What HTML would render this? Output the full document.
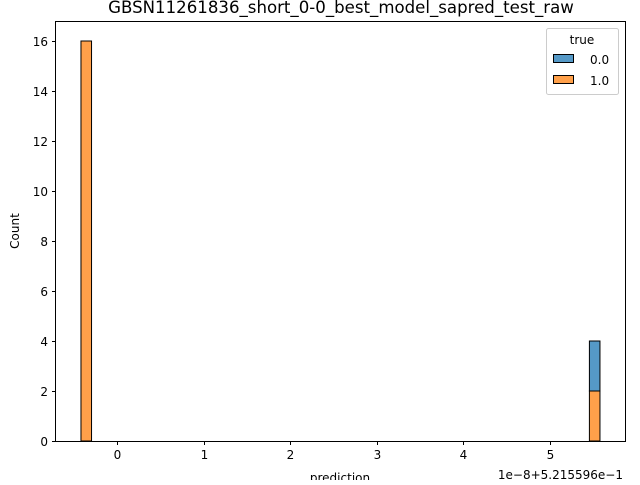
<!DOCTYPE html>
<html><head><meta charset="utf-8"><style>
body{margin:0;background:#fff}
svg text{font-family:"DejaVu Sans","Liberation Sans",sans-serif;fill:#000}
</style></head><body>
<svg width="640" height="480">
<text x="341" y="13" font-size="16.6" text-anchor="middle">GBSN11261836_short_0-0_best_model_sapred_test_raw</text>
<g id="bars"></g>
<g id="xticks"></g><g id="yticks"></g>
<rect x="55.5" y="21.5" width="570" height="420" fill="none" stroke="#000" stroke-width="1"/>
<text x="340" y="482" font-size="12" text-anchor="middle">prediction</text>
<text x="19" y="231" font-size="12" text-anchor="middle" transform="rotate(-90 19 231)">Count</text>
<text x="623" y="479" font-size="12" text-anchor="end">1e−8+5.215596e−1</text>
<g>
<rect x="546.5" y="28.5" width="72" height="66" rx="2" fill="#fff" stroke="#ccc"/>
<text x="582" y="44" font-size="12" text-anchor="middle">true</text>
<rect x="553.5" y="54.5" width="20" height="8" fill="#5599c7" stroke="#000"/>
<text x="590" y="64" font-size="12">0.0</text>
<rect x="553.5" y="75.5" width="20" height="8" fill="#ffa04a" stroke="#000"/>
<text x="590" y="85" font-size="12">1.0</text>
</g>
</svg>
<script>
const binStarts=[-0.416,5.455];
const binWidth=0.122;
const counts0=[0,2];
const counts1=[16,2];
const xTickVals=[0,1,2,3,4,5];
const yTickVals=[0,2,4,6,8,10,12,14,16];
const NS="http://www.w3.org/2000/svg";
const X=v=>117+v*86.6;
const Y=v=>441-v*25;
function mk(p,t,a){const e=document.createElementNS(NS,t);for(const k in a)e.setAttribute(k,a[k]);p.appendChild(e);return e;}
const bars=document.getElementById('bars');
binStarts.forEach((s,i)=>{
 const x0=X(s),x1=X(s+binWidth);
 if(counts1[i]>0){const r=mk(bars,'rect',{x:x0,y:Y(counts1[i]),width:x1-x0,height:Y(0)-Y(counts1[i]),fill:'#ffa04a',stroke:'#000','stroke-width':1});
 
 }
 if(counts0[i]>0){const t=counts1[i]+counts0[i];const r=mk(bars,'rect',{x:x0,y:Y(t),width:x1-x0,height:Y(counts1[i])-Y(t),fill:'#5599c7',stroke:'#000','stroke-width':1});
 
 }
});
const xt=document.getElementById('xticks');
xTickVals.forEach(v=>{const x=Math.round(X(v))+0.5;mk(xt,'line',{x1:x,x2:x,y1:441.5,y2:445,stroke:'#000'});
 const t=mk(xt,'text',{x:x,y:459,'font-size':12,'text-anchor':'middle'});t.textContent=v;
 
 });
const yt=document.getElementById('yticks');
yTickVals.forEach(v=>{const y=Math.round(Y(v))+0.5;mk(yt,'line',{x1:52,x2:55.5,y1:y,y2:y,stroke:'#000'});
 const t=mk(yt,'text',{x:48,y:y+4.5,'font-size':12,'text-anchor':'end'});t.textContent=v;
 
 });
</script>
</body></html>
